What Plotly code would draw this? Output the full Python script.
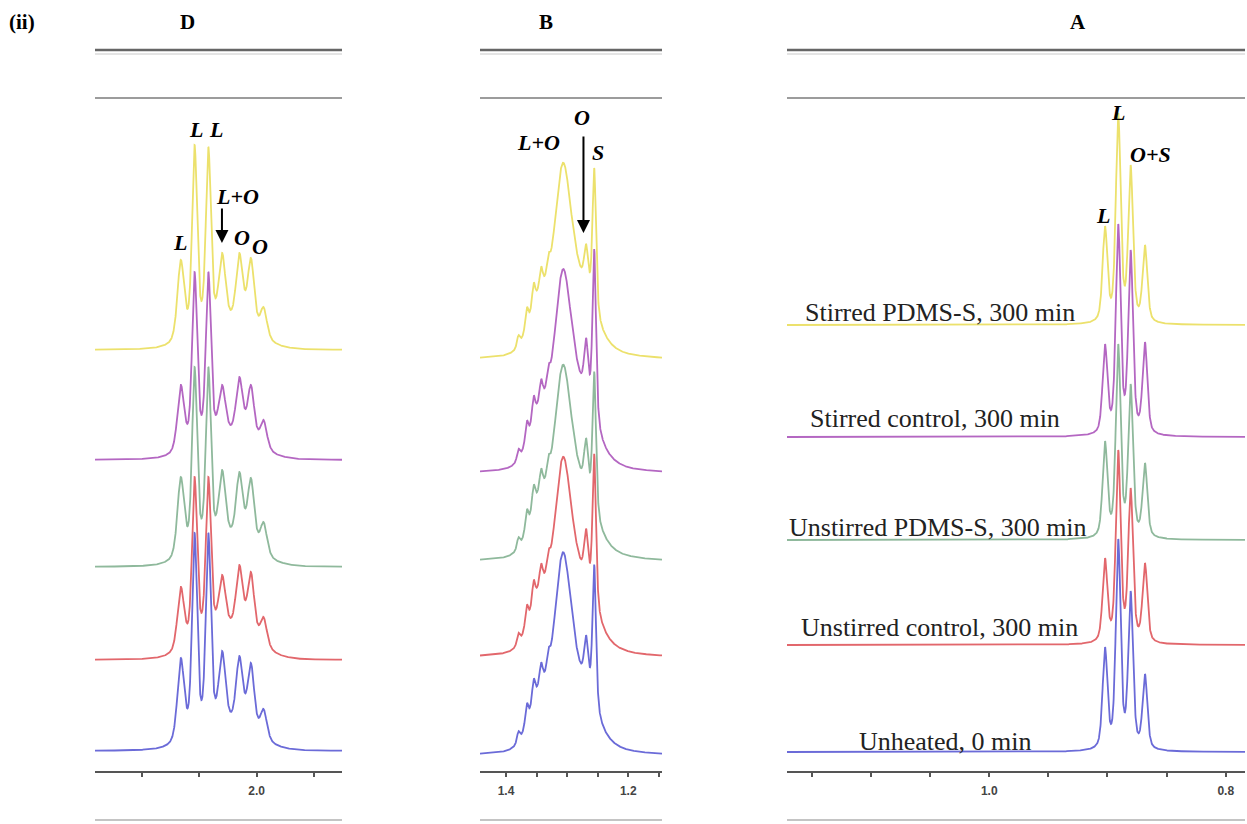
import numpy as np
import plotly.graph_objects as go

W, H = 1247, 824

# Spectra, listed top to bottom of the stack
names = ["Stirred PDMS-S, 300 min", "Stirred control, 300 min",
         "Unstirred PDMS-S, 300 min", "Unstirred control, 300 min",
         "Unheated, 0 min"]
colors = ["#ece16c", "#b467c2", "#8fb99c", "#e2676c", "#6b6bd8"]

# ---- Region D (allylic CH2) ----
d_range = [2.1406, 1.9258]
d_ticks = [2.10, 2.05, 2.00, 1.95]
d_ticktext = ["", "", "2.0", ""]
# seven resolved lines plus a broad underlying envelope
d_centers = [2.066, 2.054, 2.042, 2.030, 2.015, 2.005, 1.994, 2.025]
d_hwhm = [0.0035, 0.0026, 0.0026, 0.0035, 0.0035, 0.0035, 0.0035, 0.026]
d_eta = [0.5, 0.5, 0.5, 0.5, 0.5, 0.5, 0.5, 0.0]
# measured intensities at each line and at the 2.022 ppm valley
d_probe = [2.066, 2.054, 2.042, 2.030, 2.015, 2.005, 1.994, 2.0224]
d_measured = [
    [90, 205, 203, 97, 97, 92, 43, 40],
    [75, 188, 188, 75, 83, 75, 40, 35],
    [90, 200, 200, 97, 95, 89, 45, 40],
    [73, 183, 183, 85, 95, 88, 43, 42],
    [93, 218, 218, 100, 95, 88, 42, 39],
]
d_offsets = [421, 311, 204, 111, 20]

# ---- Region B (CH2 envelope) ----
b_range = [1.4426, 1.1448]
b_ticks = [1.40, 1.35, 1.30, 1.25, 1.20, 1.15]
b_ticktext = ["1.4", "", "", "", "1.2", ""]
# broad right envelope, broad left envelope, main line, five shoulder lines, small line, S line
b_centers = [1.2869, 1.3443, 1.3074, 1.3798, 1.3661, 1.3549, 1.3426, 1.3307, 1.2689, 1.2557]
b_hwhm = [0.0328, 0.0213, 0.0148, 0.0028, 0.0028, 0.0028, 0.0028, 0.0028, 0.0041, 0.0035]
b_eta = [0.5, 0.1, 0.3, 0.3, 0.3, 0.3, 0.3, 0.3, 0.5, 0.6]
b_heights = [
    [77, 52, 132, 10, 18, 20, 18, 14, 43, 146],
    [83, 52, 135, 10, 18, 20, 18, 14, 57, 175],
    [77, 52, 132, 10, 18, 20, 18, 14, 51, 144],
    [82, 52, 132, 10, 18, 20, 18, 14, 52, 155],
    [75, 52, 140, 10, 18, 20, 18, 14, 49, 146],
]
b_offsets = [411, 297, 209, 113, 15]

# ---- Region A (terminal CH3) ----
a_range = [1.171, 0.7837]
a_ticks = [1.15, 1.10, 1.05, 1.00, 0.95, 0.90, 0.85, 0.80]
a_ticktext = ["", "", "", "1.0", "", "", "", "0.8"]
a_centers = [0.9021, 0.8909, 0.8804, 0.8683]
a_hwhm = [0.0024, 0.0024, 0.0024, 0.0024]
a_eta = [0.5] * 4
a_probe = a_centers
a_measured = [
    [99, 212, 160, 80],
    [93, 213, 187, 95],
    [99, 196, 156, 77],
    [87, 195, 157, 82],
    [105, 213, 161, 78],
]
a_offsets = [446, 334, 231, 126, 19]


def pseudo_voigt(x, x0, h, w, eta):
    u = ((x - x0) / w) ** 2
    return h * (eta / (1.0 + u) + (1.0 - eta) * np.exp(-np.log(2.0) * u))


def spectrum(x, centers, hwhm, eta, heights):
    y = np.zeros_like(x, dtype=float)
    for c, w, e, h in zip(centers, hwhm, eta, heights):
        y += pseudo_voigt(x, c, h, w, e)
    return y


def line_amplitudes(centers, hwhm, eta, probe, measured):
    """Amplitudes whose summed profile reproduces the measured intensities."""
    m = np.array([[pseudo_voigt(px, c, 1.0, w, e) for c, w, e in zip(centers, hwhm, eta)]
                  for px in probe])
    return [np.clip(np.linalg.solve(m, np.asarray(row, float)), 0, None) for row in measured]


d_heights = line_amplitudes(d_centers, d_hwhm, d_eta, d_probe, d_measured)
a_heights = line_amplitudes(a_centers, a_hwhm, a_eta, a_probe, a_measured)

panels = [
    dict(xa="x", ya="y", rng=d_range, ticks=d_ticks, tt=d_ticktext, c=d_centers,
         w=d_hwhm, e=d_eta, h=d_heights, off=d_offsets, dom=[95 / W, 342 / W]),
    dict(xa="x2", ya="y2", rng=b_range, ticks=b_ticks, tt=b_ticktext, c=b_centers,
         w=b_hwhm, e=b_eta, h=b_heights, off=b_offsets, dom=[480 / W, 662 / W]),
    dict(xa="x3", ya="y3", rng=a_range, ticks=a_ticks, tt=a_ticktext, c=a_centers,
         w=a_hwhm, e=a_eta, h=a_heights, off=a_offsets, dom=[787 / W, 1245 / W]),
]

fig = go.Figure()
for p in panels:
    x = np.linspace(p["rng"][0], p["rng"][1], 2400)
    for i in range(len(names)):
        y = p["off"][i] + spectrum(x, p["c"], p["w"], p["e"], p["h"][i])
        fig.add_trace(go.Scatter(x=x, y=y, mode="lines", xaxis=p["xa"], yaxis=p["ya"],
                                 line=dict(color=colors[i], width=1.8),
                                 hoverinfo="skip", showlegend=False))

ydom = [(H - 771) / H, (H - 50) / H]
axis_common = dict(showgrid=False, zeroline=False, showline=True, linecolor="#555555",
                   linewidth=2, ticks="outside", ticklen=4, tickwidth=1.5,
                   tickcolor="#555555", ticklabelstandoff=4,
                   tickfont=dict(family="Liberation Sans", size=12, color="#444444",
                                 weight="bold"))
layout = dict(width=W, height=H, margin=dict(l=0, r=0, t=0, b=0),
              paper_bgcolor="white", plot_bgcolor="white", showlegend=False)
for k, p in enumerate(panels):
    sfx = "" if k == 0 else str(k + 1)
    layout["xaxis" + sfx] = dict(axis_common, domain=p["dom"], range=p["rng"],
                                 tickvals=p["ticks"], ticktext=p["tt"],
                                 anchor="y" + sfx)
    layout["yaxis" + sfx] = dict(domain=ydom, range=[0, 721], visible=False,
                                 anchor="x" + sfx)
fig.update_layout(**layout)

# frame lines above and below each region
shapes = []
for k, p in enumerate(panels):
    ref = ("x" if k == 0 else "x" + str(k + 1)) + " domain"
    for ypx, col, wd in [(50, "#666666", 2.5), (54, "#e4e4e4", 2), (98, "#9c9c9c", 2),
                         (820, "#c4c4c4", 2)]:
        shapes.append(dict(type="line", xref=ref, x0=0, x1=1, yref="paper",
                           y0=1 - ypx / H, y1=1 - ypx / H,
                           line=dict(color=col, width=wd)))
fig.update_layout(shapes=shapes)

serif = "Liberation Serif"
ann = []
# titles
for txt, xp in [("(ii)", 22), ("D", 187), ("B", 546), ("A", 1078)]:
    ann.append(dict(text=txt, x=xp / W, y=1 - 22 / H, xref="paper", yref="paper",
                    xanchor="center", yanchor="middle", showarrow=False,
                    font=dict(family=serif, size=21, color="black", weight="bold")))

peak_font = dict(family=serif, size=22, color="black", weight="bold", style="italic")
peak_labels = [
    ("x", "y", "L", 2.0667, 528), ("x", "y", "L", 2.0526, 641), ("x", "y", "L", 2.0354, 641),
    ("x", "y", "L+O", 2.0163, 574), ("x", "y", "O", 2.0132, 533), ("x", "y", "O", 1.9971, 524),
    ("x2", "y2", "L+O", 1.3475, 628), ("x2", "y2", "O", 1.2762, 653), ("x2", "y2", "S", 1.2492, 618),
    ("x3", "y3", "L", 0.8911, 658), ("x3", "y3", "O+S", 0.8640, 616), ("x3", "y3", "L", 0.9034, 555),
]
for xr, yr, txt, xv, yv in peak_labels:
    ann.append(dict(text=txt, x=xv, y=yv, xref=xr, yref=yr, showarrow=False,
                    xanchor="center", yanchor="middle", font=peak_font))

arrows = [("x", "y", 2.0302, 564, 528), ("x2", "y2", 1.2733, 636, 538)]
for xr, yr, xv, y_tail, y_head in arrows:
    ann.append(dict(text="", x=xv, y=y_head, ax=xv, ay=y_tail, xref=xr, yref=yr,
                    axref=xr, ayref=yr, showarrow=True, arrowhead=2, arrowsize=1.3,
                    arrowwidth=2, arrowcolor="black"))

# sample names in region A
label_y = [459, 353, 244, 144, 30]
label_x = [1.0417, 1.0460, 1.0435, 1.0417, 1.0366]
for i, nm in enumerate(names):
    ann.append(dict(text=nm, x=label_x[i], y=label_y[i], xref="x3", yref="y3",
                    xanchor="center", yanchor="middle", showarrow=False,
                    font=dict(family=serif, size=26, color="#222222")))
fig.update_layout(annotations=ann)

fig.write_html("out.html")
